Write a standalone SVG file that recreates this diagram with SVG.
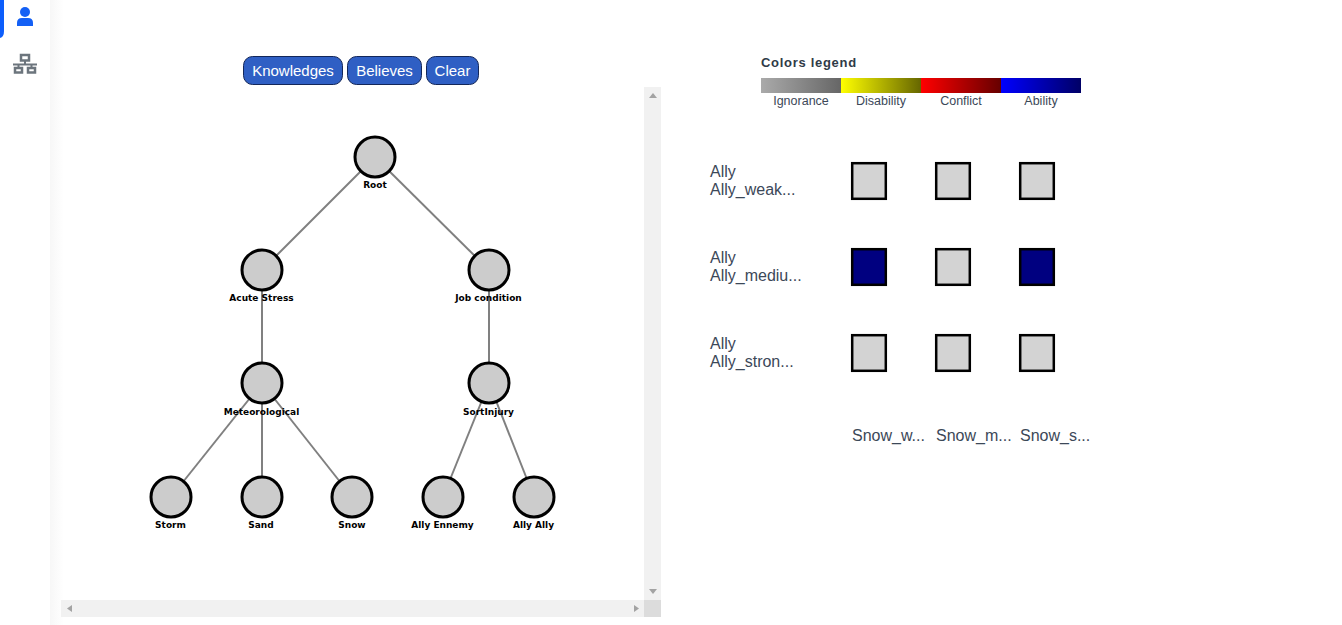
<svg xmlns="http://www.w3.org/2000/svg" width="1342" height="625" viewBox="0 0 1342 625">
<style>
text{font-family:"Liberation Sans",Arial,sans-serif}
.node circle{fill:#ccc;stroke:#000;stroke-width:3}
.node text{font-family:"DejaVu Sans",sans-serif;font-size:9px;font-weight:700;text-anchor:middle;fill:#000}
.links line{stroke:#808080;stroke-width:2}
.btn rect{fill:#2f5fc4;stroke:#13275a;stroke-width:1}
.btn text{font-size:15px;fill:#fff;text-anchor:middle}
.lg{font-size:12.5px;fill:#3c4858;text-anchor:middle}
.lbl{font-size:16px;fill:#3c4858}
.cell{stroke:#000;stroke-width:2.500}
.bar{fill:#f1f1f1}
.arr{fill:#a3a3a3}
</style>
<defs>
<linearGradient id="g1"><stop offset="0" stop-color="#aaa"/><stop offset="1" stop-color="#666"/></linearGradient>
<linearGradient id="g2"><stop offset="0" stop-color="#ff0"/><stop offset="1" stop-color="#666600"/></linearGradient>
<linearGradient id="g3"><stop offset="0" stop-color="#f00"/><stop offset="1" stop-color="#660000"/></linearGradient>
<linearGradient id="g4"><stop offset="0" stop-color="#00f"/><stop offset="1" stop-color="#000066"/></linearGradient>
<linearGradient id="sh"><stop offset="0" stop-color="#f7f7f7"/><stop offset="1" stop-color="#fff"/></linearGradient>
</defs>
<rect width="1342" height="625" fill="#fff"/>
<g id="sidebar">
<rect x="50" y="0" width="14" height="625" fill="url(#sh)"/>
<path d="M0 0H4V31Q4 37 0 38Z" fill="#0d5efc"/>
<circle cx="25" cy="12" r="5" fill="#1460f5"/>
<path d="M17 26V23Q17 18 22 18H28Q33 18 33 23V26Z" fill="#1460f5"/>
<g fill="none" stroke="#6c757d" stroke-width="2.500"><rect x="21" y="55" width="8" height="5.500"/><rect x="15" y="68" width="7" height="4.500"/><rect x="28" y="68" width="7" height="4.500"/><path d="M13 64.500H37M25 61V64.500M18.500 64.500V68M31.500 64.500V68" stroke-width="2"/></g>
</g>
<g id="btn-knowledges" class="btn"><rect x="243.500" y="56.500" width="99" height="28" rx="9"/><text x="293" y="76">Knowledges</text></g>
<g id="btn-believes" class="btn"><rect x="347.500" y="56.500" width="74" height="28" rx="9"/><text x="384.500" y="76">Believes</text></g>
<g id="btn-clear" class="btn"><rect x="426.500" y="56.500" width="52" height="28" rx="9"/><text x="452.500" y="76">Clear</text></g>
<g id="scrollbars">
<rect class="bar" x="644" y="87" width="17" height="513"/>
<rect class="bar" x="61" y="600" width="583" height="17"/>
<rect x="644" y="600" width="17" height="17" fill="#dcdcdc"/>
<path class="arr" d="M649 98L653 93L657 98Z"/>
<path class="arr" d="M649 589H657L653 594Z"/>
<path class="arr" d="M72 605V612L67 608.500Z"/>
<path class="arr" d="M634 605V612L639 608.500Z"/>
</g>
<g id="connectors" class="links">
<line x1="375" y1="157" x2="262" y2="270"/>
<line x1="375" y1="157" x2="489" y2="270"/>
<line x1="262" y1="270" x2="262" y2="383"/>
<line x1="489" y1="270" x2="489" y2="383"/>
<line x1="262" y1="383" x2="171" y2="497"/>
<line x1="262" y1="383" x2="262" y2="497"/>
<line x1="262" y1="383" x2="352" y2="497"/>
<line x1="489" y1="383" x2="443" y2="497"/>
<line x1="489" y1="383" x2="534" y2="497"/>
</g>
<g id="n-root" class="node"><circle cx="375" cy="157" r="20"/><text x="375" y="188">Root</text></g>
<g id="n-acute" class="node"><circle cx="262" cy="270" r="20"/><text x="261.500" y="301">Acute Stress</text></g>
<g id="n-job" class="node"><circle cx="489" cy="270" r="20"/><text x="488.500" y="301">Job condition</text></g>
<g id="n-meteo" class="node"><circle cx="262" cy="383" r="20"/><text x="261.500" y="415">Meteorological</text></g>
<g id="n-sort" class="node"><circle cx="489" cy="383" r="20"/><text x="488.500" y="415">SortInjury</text></g>
<g id="n-storm" class="node"><circle cx="171" cy="497" r="20"/><text x="170.500" y="528">Storm</text></g>
<g id="n-sand" class="node"><circle cx="262" cy="497" r="20"/><text x="261" y="528">Sand</text></g>
<g id="n-snow" class="node"><circle cx="352" cy="497" r="20"/><text x="352" y="528">Snow</text></g>
<g id="n-ennemy" class="node"><circle cx="443" cy="497" r="20"/><text x="442.500" y="528">Ally Ennemy</text></g>
<g id="n-ally" class="node"><circle cx="534" cy="497" r="20"/><text x="533.500" y="528">Ally Ally</text></g>
<g id="legend">
<text x="761" y="67" font-size="13" font-weight="700" fill="#2f3b47" letter-spacing=".7">Colors legend</text>
<rect x="761" y="78" width="80" height="15" fill="url(#g1)"/>
<rect x="841" y="78" width="80" height="15" fill="url(#g2)"/>
<rect x="921" y="78" width="80" height="15" fill="url(#g3)"/>
<rect x="1001" y="78" width="80" height="15" fill="url(#g4)"/>
<text class="lg" x="801" y="105">Ignorance</text>
<text class="lg" x="881" y="105">Disability</text>
<text class="lg" x="961" y="105">Conflict</text>
<text class="lg" x="1041" y="105">Ability</text>
</g>
<g id="matrix">
<text class="lbl" x="710" y="177">Ally</text><text class="lbl" x="710" y="195">Ally_weak...</text>
<text class="lbl" x="710" y="263">Ally</text><text class="lbl" x="710" y="281">Ally_mediu...</text>
<text class="lbl" x="710" y="349">Ally</text><text class="lbl" x="710" y="367">Ally_stron...</text>
<rect class="cell" x="852.200" y="163.200" width="33.600" height="35.600" fill="#d3d3d3"/>
<rect class="cell" x="936.200" y="163.200" width="33.600" height="35.600" fill="#d3d3d3"/>
<rect class="cell" x="1020.200" y="163.200" width="33.600" height="35.600" fill="#d3d3d3"/>
<rect class="cell" x="852.200" y="249.200" width="33.600" height="35.600" fill="#000080"/>
<rect class="cell" x="936.200" y="249.200" width="33.600" height="35.600" fill="#d3d3d3"/>
<rect class="cell" x="1020.200" y="249.200" width="33.600" height="35.600" fill="#000080"/>
<rect class="cell" x="852.200" y="335.200" width="33.600" height="35.600" fill="#d3d3d3"/>
<rect class="cell" x="936.200" y="335.200" width="33.600" height="35.600" fill="#d3d3d3"/>
<rect class="cell" x="1020.200" y="335.200" width="33.600" height="35.600" fill="#d3d3d3"/>
<text class="lbl" x="852" y="441">Snow_w...</text>
<text class="lbl" x="936" y="441">Snow_m...</text>
<text class="lbl" x="1020" y="441">Snow_s...</text>
</g>
</svg>
